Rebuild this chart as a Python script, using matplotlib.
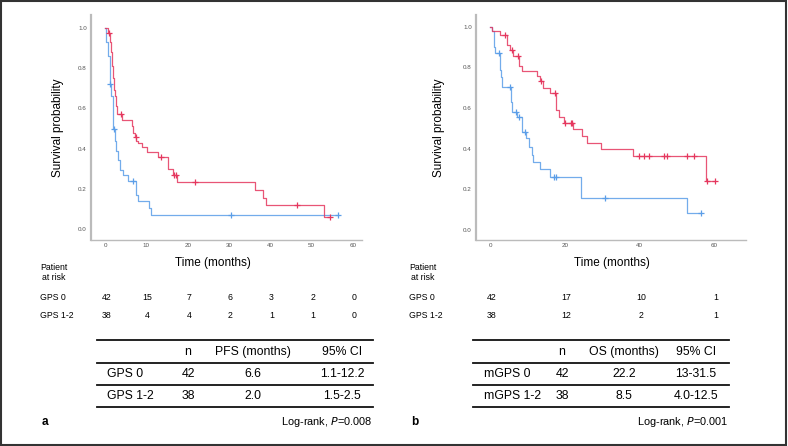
import numpy as np
import matplotlib
matplotlib.use('Agg')
import matplotlib.pyplot as plt
from matplotlib.lines import Line2D
from matplotlib.patches import Rectangle
import matplotlib.transforms as mtransforms

plt.rcParams['font.family'] = ['Liberation Sans', 'DejaVu Sans']

# ---- panel a: PFS ----
pfs_gps0_t = [0, 0.6, 1.2, 1.4, 1.6, 1.9, 2.1, 2.3, 2.6, 2.8, 3.0, 4.0, 6.6, 6.8, 7.2, 7.6,
              8.0, 9.0, 10.2, 12.9, 15.3, 16.5, 17.4, 36.4, 38.2, 39.0, 52.9, 54.4]
pfs_gps0_s = [1.0, 0.976, 0.93, 0.88, 0.81, 0.75, 0.69, 0.66, 0.61, 0.59, 0.57, 0.54, 0.51, 0.48,
              0.46, 0.44, 0.43, 0.41, 0.385, 0.36, 0.30, 0.27, 0.235, 0.193, 0.155, 0.117, 0.06, 0.06]
pfs_gps0_cens = [1.0, 3.9, 7.5, 13.5, 16.8, 17.2, 21.8, 46.5, 54.4]

pfs_gps12_t = [0, 0.3, 0.7, 1.1, 1.5, 1.9, 2.3, 2.7, 3.1, 3.5, 4.3, 5.5, 7.6, 8.0, 10.7, 11.2, 56.5]
pfs_gps12_s = [1.0, 0.93, 0.86, 0.72, 0.66, 0.50, 0.44, 0.39, 0.345, 0.295, 0.27, 0.237,
               0.17, 0.138, 0.104, 0.068, 0.068]
pfs_gps12_cens = [1.3, 2.1, 6.7, 30.4, 56.5]

# ---- panel b: OS ----
os_gps0_t = [0, 0.4, 2.6, 4.4, 5.4, 6.1, 7.7, 8.6, 12.4, 13.2, 14.1, 16.0, 17.6, 17.7, 18.5,
             19.7, 22.2, 24.6, 25.8, 29.5, 38.2, 57.8, 60.0]
os_gps0_s = [1.0, 0.98, 0.959, 0.91, 0.885, 0.856, 0.807, 0.782, 0.757, 0.733, 0.70, 0.672,
             0.618, 0.59, 0.557, 0.528, 0.497, 0.462, 0.43, 0.397, 0.366, 0.243, 0.243]
os_gps0_cens = [3.9, 5.9, 7.5, 13.7, 17.2, 20.0, 21.7, 22.0, 39.9, 41.1, 42.4, 46.6, 47.3,
                52.7, 54.5, 58.0, 60.0]

os_gps12_t = [0, 0.5, 0.9, 1.25, 2.5, 2.8, 3.2, 5.6, 5.9, 7.2, 8.4, 9.6, 10.3, 11.1, 11.5,
              13.2, 16.1, 24.4, 52.7, 56.5]
os_gps12_s = [1.0, 0.98, 0.90, 0.872, 0.787, 0.75, 0.705, 0.63, 0.58, 0.554, 0.484, 0.45,
              0.41, 0.369, 0.333, 0.298, 0.262, 0.156, 0.082, 0.082]
os_gps12_cens = [2.3, 5.3, 6.9, 7.7, 9.2, 17.0, 17.6, 30.6, 56.5]

# ---- risk tables ----
risk_a_times = [0, 10, 20, 30, 40, 50, 60]
risk_a_gps0 = [42, 15, 7, 6, 3, 2, 0]
risk_a_gps12 = [38, 4, 4, 2, 1, 1, 0]
risk_b_times = [0, 20, 40, 60]
risk_b_gps0 = [42, 17, 10, 1]
risk_b_gps12 = [38, 12, 2, 1]

# ---- summary tables ----
tab_a_groups = ['GPS 0', 'GPS 1-2']
tab_a_n = ['42', '38']
tab_a_med = ['6.6', '2.0']
tab_a_ci = ['1.1-12.2', '1.5-2.5']
tab_b_groups = ['mGPS 0', 'mGPS 1-2']
tab_b_n = ['42', '38']
tab_b_med = ['22.2', '8.5']
tab_b_ci = ['13-31.5', '4.0-12.5']

RED = '#e5375e'
BLUE = '#5b9ee8'
W, H = 788, 446

fig = plt.figure(figsize=(W / 100, H / 100), dpi=100)
fig.patch.set_facecolor('white')


def fx(px):
    return px / W


def fy(py):
    return 1 - py / H


def step_val(t, s, x):
    i = np.searchsorted(t, x, side='right') - 1
    return np.array(s)[i]


def km_axes(rect, xlim, ylim, xticks, curves):
    ax = fig.add_axes(rect)
    for t, s, cens, col in curves:
        ax.step(t, s, where='post', color=col, lw=0.9, alpha=0.85)
        ax.plot(cens, step_val(t, s, cens), '+', color=col, ms=4, mew=0.9, ls='none')
    ax.set_xlim(*xlim)
    ax.set_ylim(*ylim)
    ax.set_xticks(xticks)
    ax.set_yticks([0, 0.2, 0.4, 0.6, 0.8, 1.0])
    ax.set_yticklabels(['0.0', '0.2', '0.4', '0.6', '0.8', '1.0'])
    ax.tick_params(length=0, labelsize=4.5, labelcolor='#555555')
    ax.tick_params(axis='x', pad=2.5)
    ax.tick_params(axis='y', pad=3)
    for sp in ['top', 'right']:
        ax.spines[sp].set_visible(False)
    ax.spines['left'].set_color('#bbbbbb')
    ax.spines['left'].set_linewidth(1.6)
    ax.spines['bottom'].set_color('#bbbbbb')
    ax.spines['bottom'].set_linewidth(1.0)
    ax.set_ylabel('Survival probability', fontsize=8.5)
    return ax


ax_a = km_axes([fx(91), fy(240), fx(362 - 91), (240 - 15) / H], (-3.4, 62.2), (-0.055, 1.065),
               [0, 10, 20, 30, 40, 50, 60],
               [(pfs_gps12_t, pfs_gps12_s, pfs_gps12_cens, BLUE),
                (pfs_gps0_t, pfs_gps0_s, pfs_gps0_cens, RED)])
ax_b = km_axes([fx(476), fy(240), fx(746 - 476), (240 - 15) / H], (-3.8, 68.4), (-0.049, 1.057),
               [0, 20, 40, 60],
               [(os_gps12_t, os_gps12_s, os_gps12_cens, BLUE),
                (os_gps0_t, os_gps0_s, os_gps0_cens, RED)])
ax_a.yaxis.set_label_coords(-0.10, 0.5)
ax_b.yaxis.set_label_coords(-0.115, 0.5)


def bottom_part(ax, x0, times, r0, r1, tab_x, groups, n, med, ci, head, letter, pval, time_cx):
    tr = mtransforms.blended_transform_factory(ax.transData, fig.transFigure)
    fig.text(fx(time_cx), fy(263), 'Time (months)', fontsize=8.5, ha='center', va='center')
    fig.text(fx(x0), fy(267), 'Patient', fontsize=6.3, ha='left', va='center')
    fig.text(fx(x0 + 2), fy(278), 'at risk', fontsize=6.3, ha='left', va='center')
    fig.text(fx(x0), fy(297), 'GPS 0', fontsize=6.3, ha='left', va='center')
    fig.text(fx(x0), fy(315), 'GPS 1-2', fontsize=6.3, ha='left', va='center')
    for t, a, b in zip(times, r0, r1):
        ax.text(t + 0.3, fy(297), str(a), transform=tr, fontsize=6.3, ha='center', va='center')
        ax.text(t + 0.3, fy(315), str(b), transform=tr, fontsize=6.3, ha='center', va='center')
    # summary table
    left, right, gx, nx, mx, cx = tab_x
    for py in [340, 363, 385, 407]:
        fig.add_artist(Line2D([fx(left), fx(right)], [fy(py), fy(py)], color='#111111', lw=1.3))
    fs = 8.8
    fig.text(fx(nx), fy(352), 'n', fontsize=fs, ha='center', va='center')
    fig.text(fx(mx), fy(352), head, fontsize=fs, ha='center', va='center')
    fig.text(fx(cx), fy(352), '95% CI', fontsize=fs, ha='center', va='center')
    for py, g, nn, m, c in zip([374, 396], groups, n, med, ci):
        fig.text(fx(gx), fy(py), g, fontsize=fs, ha='left', va='center')
        fig.text(fx(nx), fy(py), nn, fontsize=fs, ha='center', va='center')
        fig.text(fx(mx), fy(py), m, fontsize=fs, ha='center', va='center')
        fig.text(fx(cx), fy(py), c, fontsize=fs, ha='center', va='center')
    fig.text(fx(right), fy(422), 'Log-rank, $\\it{P}$=' + pval, fontsize=7.9, ha='right', va='center')
    fig.text(fx(x0 + 2), fy(422), letter, fontsize=8.5, fontweight='bold', ha='left', va='center')


bottom_part(ax_a, 40, risk_a_times, risk_a_gps0, risk_a_gps12,
            (97, 373, 107, 188, 253, 342), tab_a_groups, tab_a_n, tab_a_med, tab_a_ci,
            'PFS (months)', 'a', '0.008', 213)
bottom_part(ax_b, 409, risk_b_times, risk_b_gps0, risk_b_gps12,
            (473, 729, 484, 562, 624, 696), tab_b_groups, tab_b_n, tab_b_med, tab_b_ci,
            'OS (months)', 'b', '0.001', 612)

# outer frame
fig.add_artist(Rectangle((0.001, 0.003), 0.997, 0.995, transform=fig.transFigure,
                         fill=False, edgecolor='#333333', lw=1.5))

fig.savefig('out.png', dpi=100)
